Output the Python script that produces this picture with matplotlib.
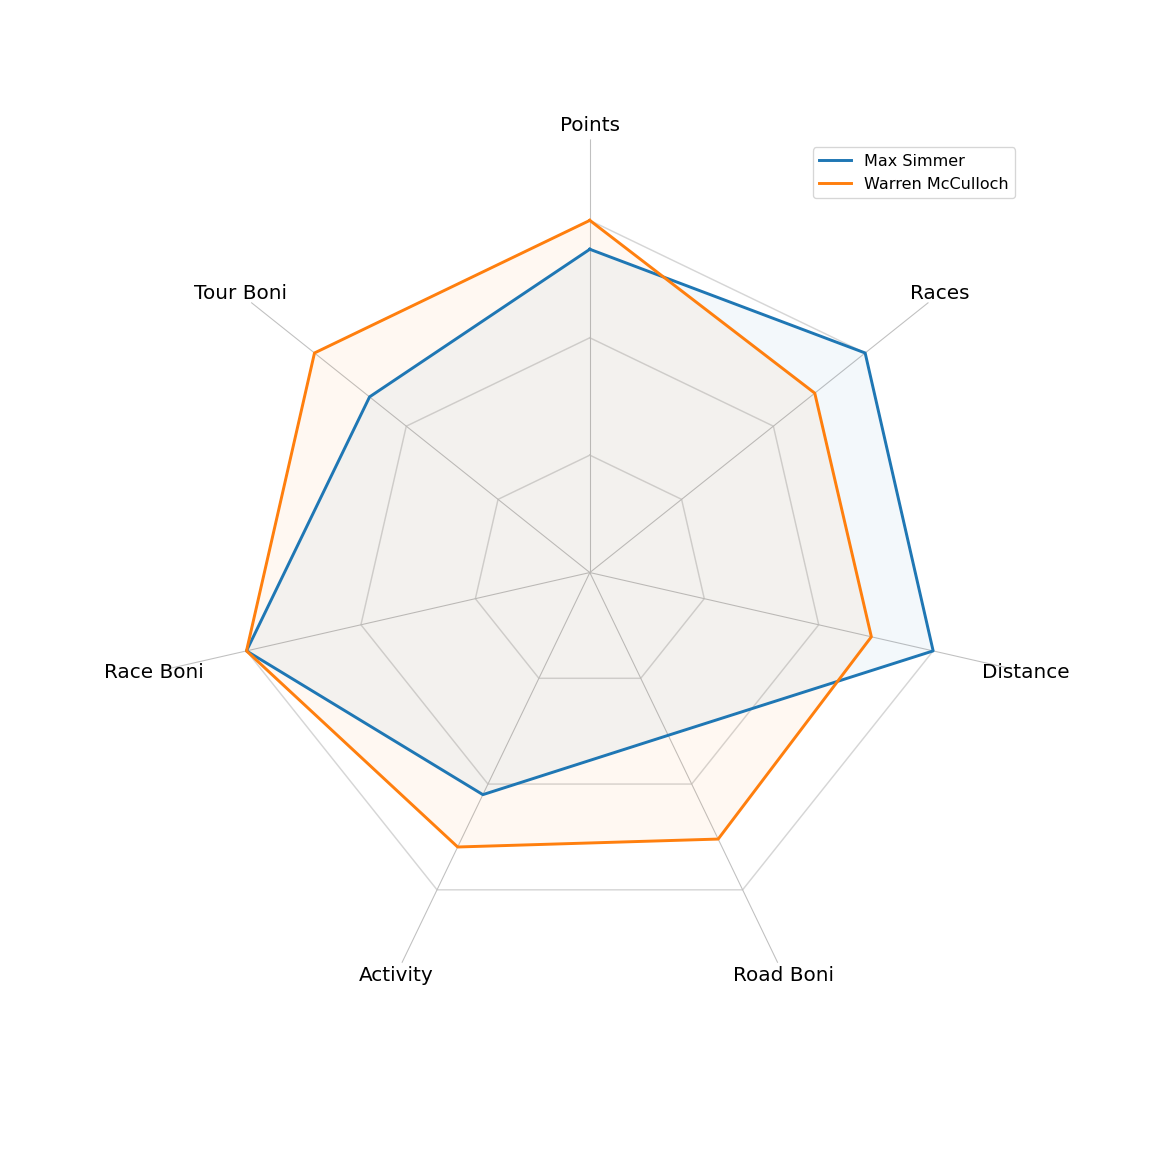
import numpy as np
import matplotlib.pyplot as plt

# Rider comparison, values scaled to the best rider per category
categories = ['Points', 'Races', 'Distance', 'Road Boni', 'Activity', 'Race Boni', 'Tour Boni']
max_simmer = [0.918, 1.0, 1.0, 0.513, 0.70, 1.0, 0.80]
warren_mcculloch = [1.0, 0.817, 0.82, 0.84, 0.865, 1.0, 1.0]
ring_levels = [1 / 3, 2 / 3, 1.0]

n = len(categories)
angles = np.linspace(0, 2 * np.pi, n, endpoint=False)
closed = np.append(angles, angles[0])

fig = plt.figure(figsize=(12, 12), dpi=96)
ax = fig.add_axes([0.136, 0.127, 0.752, 0.752], projection='polar')
ax.set_theta_offset(np.pi / 2)
ax.set_theta_direction(-1)
ax.set_ylim(0, 1.23)

# polygon rings instead of circles
for level in ring_levels:
    ax.plot(closed, [level] * (n + 1), color='#d6d6d6', lw=1.1, zorder=1)

for vals, color, name in [(max_simmer, '#1f77b4', 'Max Simmer'),
                          (warren_mcculloch, '#ff7f0e', 'Warren McCulloch')]:
    v = vals + vals[:1]
    ax.plot(closed, v, color=color, lw=2.2, label=name, zorder=3)
    ax.fill(closed, v, color=color, alpha=0.05, zorder=2)

ax.set_xticks(angles)
ax.set_xticklabels([])
ax.set_yticks([])
ax.xaxis.grid(True, color='#c0c0c0', lw=0.8)
ax.yaxis.grid(False)
ax.spines['polar'].set_visible(False)

for ang, label in zip(angles, categories):
    ax.text(ang, 1.27, label, ha='center', va='center', fontsize=15)

ax.legend(loc='upper right', fontsize=12)

fig.savefig('out.png', dpi=96)
